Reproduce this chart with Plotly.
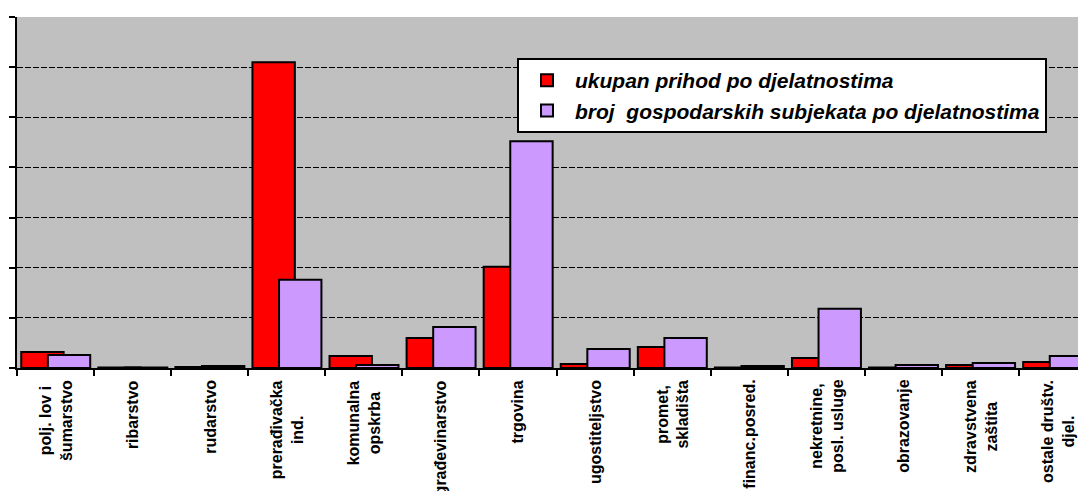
import plotly.graph_objects as go

FONT = "Liberation Sans, Arial, sans-serif"

# categories (economic activities)
categories = [
    "polj. lov i<br>šumarstvo",
    "ribarstvo",
    "rudarstvo",
    "prerađivačka<br>ind.",
    "komunalna<br>opskrba",
    "građevinarstvo",
    "trgovina",
    "ugostiteljstvo",
    "promet,<br>skladišta",
    "financ.posred.",
    "nekretnine,<br>posl. usluge",
    "obrazovanje",
    "zdravstvena<br>zaštita",
    "ostale društv.<br>djel.",
]

# series values (relative units, 1 unit = one grid step)
prihod = [0.32, 0.01, 0.02, 6.1, 0.24, 0.6, 2.02, 0.08, 0.42, 0.01, 0.2, 0.01, 0.06, 0.12]
subjekti = [0.26, 0.01, 0.04, 1.76, 0.06, 0.82, 4.52, 0.38, 0.6, 0.04, 1.18, 0.06, 0.1, 0.24]

series_names = [
    "ukupan prihod po djelatnostima",
    "broj  gospodarskih subjekata po djelatnostima",
]

fig = go.Figure()
fig.add_trace(go.Bar(
    x=categories, y=prihod, name=series_names[0],
    marker=dict(color="#FF0000", line=dict(color="black", width=2)),
    width=0.55, offset=-0.445,
))
fig.add_trace(go.Bar(
    x=categories, y=subjekti, name=series_names[1],
    marker=dict(color="#CC99FF", line=dict(color="black", width=2)),
    width=0.55, offset=-0.1,
))

# category labels, rotated, centred multi-line like the original
for cat in categories:
    fig.add_annotation(
        x=cat, y=0, xref="x", yref="paper",
        text=cat, showarrow=False,
        textangle=-90, align="center",
        xanchor="center", yanchor="top", yshift=-10,
        font=dict(family=FONT, size=16, color="black", weight="bold"),
    )

# page has an 8px body margin; the plot area runs past the right edge like the original
fig.update_layout(
    width=1088, height=491,
    barmode="overlay",
    paper_bgcolor="white",
    plot_bgcolor="#C0C0C0",
    margin=dict(l=9, r=0, t=9, b=131),
    font=dict(family=FONT, size=14, color="black"),
    showlegend=True,
    legend=dict(
        x=0.4634, y=0.883, xanchor="left", yanchor="top",
        bgcolor="white", bordercolor="black", borderwidth=2,
        font=dict(family=FONT, size=21, color="black", weight="bold", style="italic"),
        tracegroupgap=0, itemwidth=46,
    ),
    xaxis=dict(
        type="category",
        range=[-0.5, 13.5],
        showline=True, linecolor="black", linewidth=2,
        ticks="outside", tickson="boundaries", ticklen=6, tickwidth=2, tickcolor="black",
        showticklabels=False,
        showgrid=False,
    ),
    yaxis=dict(
        range=[0, 7], dtick=1,
        showline=True, linecolor="black", linewidth=2,
        ticks="outside", ticklen=6, tickwidth=2, tickcolor="black",
        showticklabels=False,
        showgrid=True, gridcolor="black", gridwidth=1, griddash="6px,2px",
        zeroline=False,
    ),
)

fig.write_html("out.html")
